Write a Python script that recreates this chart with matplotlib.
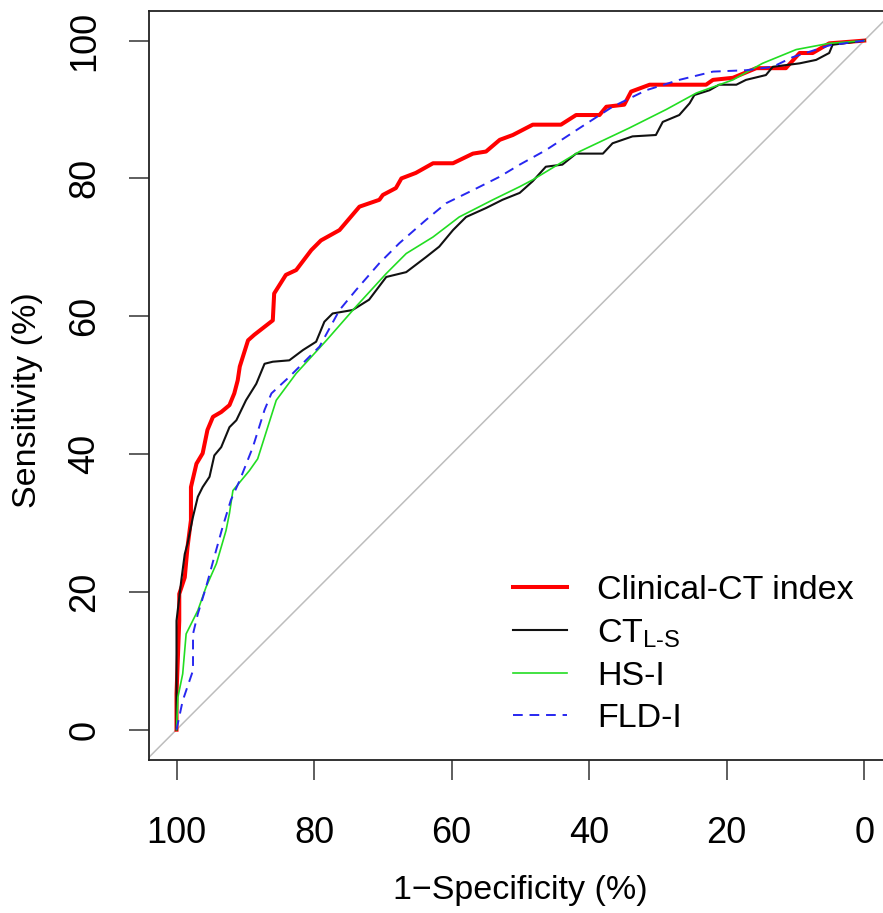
import matplotlib
matplotlib.use("Agg")
import matplotlib.pyplot as plt

plt.rcParams['font.family'] = ['Liberation Sans', 'DejaVu Sans']
plt.rcParams['mathtext.fontset'] = 'custom'
plt.rcParams['mathtext.rm'] = 'Liberation Sans'

# Data: (specificity %, sensitivity %)
clin_spec = [100, 100, 99.6, 99.6, 98.8, 98.4, 97.9, 97.9, 97.1, 96.2, 95.5, 94.7, 93.5, 92.3, 91.6,
             91.1, 90.8, 89.6, 88.7, 86.0, 85.8, 84.1, 82.6, 80.4, 79.0, 76.3, 73.4, 70.5, 70.0, 68.1,
             67.3, 65.2, 62.7, 59.8, 56.9, 55.0, 53.0, 51.1, 48.2, 44.1, 41.9, 38.5, 37.5, 34.9, 33.9,
             31.2, 28.8, 23.0, 22.0, 19.1, 15.7, 11.4, 9.4, 7.5, 5.1, 0]
clin_sens = [0, 5.2, 15.8, 19.7, 22.1, 26.5, 30.4, 35.2, 38.6, 40.1, 43.5, 45.4, 46.1, 47.1, 48.8,
             50.7, 52.7, 56.5, 57.3, 59.4, 63.3, 66.0, 66.7, 69.6, 71.0, 72.5, 75.9, 76.9, 77.6, 78.6,
             80.0, 80.8, 82.2, 82.2, 83.6, 83.9, 85.6, 86.3, 87.8, 87.8, 89.2, 89.2, 90.4, 90.7, 92.6,
             93.6, 93.6, 93.6, 94.3, 94.6, 96.0, 96.0, 98.2, 98.2, 99.6, 100]

ct_spec = [100, 100, 99.6, 99.3, 98.8, 98.4, 97.6, 96.9, 96.2, 95.2, 94.5, 93.5, 92.3, 91.3, 89.9,
           88.4, 87.2, 86.0, 83.6, 81.6, 79.7, 78.5, 77.3, 74.4, 72.0, 69.5, 66.6, 63.7, 61.8, 59.8,
           57.9, 55.0, 52.6, 50.1, 48.2, 46.3, 43.9, 41.9, 38.0, 36.6, 33.7, 30.3, 29.3, 26.9, 25.4,
           24.7, 22.5, 21.1, 18.6, 17.2, 14.3, 13.3, 9.4, 7.0, 5.1, 4.6, 0]
ct_sens = [0, 15.8, 19.2, 21.7, 25.5, 27.0, 30.9, 33.8, 35.2, 36.7, 39.8, 41.0, 43.9, 44.9, 47.8,
           50.2, 53.1, 53.4, 53.6, 55.1, 56.3, 59.2, 60.4, 60.9, 62.4, 65.7, 66.4, 68.6, 70.1, 72.5,
           74.4, 75.7, 76.9, 77.9, 79.6, 81.7, 82.0, 83.6, 83.6, 85.1, 86.1, 86.3, 88.2, 89.2, 90.9,
           92.1, 92.8, 93.6, 93.6, 94.3, 95.0, 96.2, 96.7, 97.2, 98.2, 99.4, 100]

hs_spec = [100, 99.8, 99.1, 98.6, 96.9, 95.7, 94.2, 92.8, 92.3, 91.8, 89.4, 88.2, 85.5, 82.6, 78.2,
           73.9, 69.5, 66.6, 62.7, 58.9, 54.0, 50.1, 48.2, 41.4, 34.2, 28.8, 24.4, 19.1, 14.8, 9.9,
           5.1, 0]
hs_sens = [0, 4.7, 8.1, 13.9, 17.3, 20.7, 24.1, 28.9, 31.4, 34.7, 37.6, 39.3, 47.8, 51.7, 56.5,
           61.4, 66.2, 69.1, 71.5, 74.4, 76.9, 78.8, 79.8, 83.9, 87.3, 90.0, 92.4, 94.3, 96.7, 98.7,
           99.6, 100]

fld_spec = [100, 99.1, 97.6, 97.6, 96.9, 95.7, 94.5, 93.3, 92.1, 90.8, 88.9, 87.2, 86.2, 83.6, 79.2,
            76.3, 73.9, 70.5, 67.6, 63.7, 60.8, 56.9, 53.1, 50.1, 46.3, 41.4, 36.6, 31.7, 26.9, 22.0,
            17.2, 13.3, 10.4, 5.1, 0]
fld_sens = [0, 4.2, 8.6, 13.9, 16.8, 20.7, 25.1, 29.4, 33.3, 36.2, 41.0, 46.4, 48.8, 51.2, 55.6,
            60.9, 63.8, 67.7, 70.6, 74.0, 76.4, 78.3, 80.2, 82.0, 84.1, 87.3, 90.4, 92.8, 94.3, 95.5,
            95.7, 96.2, 97.6, 99.3, 100]

labels = ['Clinical-CT index', r'CT$_{\mathregular{L\text{-}S}}$', 'HS-I', 'FLD-I']
ticks = [100, 80, 60, 40, 20, 0]

fig = plt.figure(figsize=(8.83, 9.13), dpi=100)
ax = fig.add_axes([0.16874, 0.16758, 0.8412, 0.8204])

ax.axline((100, 0), (0, 100), color='#BDBDBD', lw=1.1, zorder=1)
ax.plot(clin_spec, clin_sens, color='#FF0000', lw=2.9, label=labels[0], zorder=2)
ax.plot(ct_spec, ct_sens, color='#111111', lw=1.5, label=labels[1], zorder=3)
ax.plot(hs_spec, hs_sens, color='#22DD22', lw=1.2, label=labels[2], zorder=4)
ax.plot(fld_spec, fld_sens, color='#2727F0', lw=1.4, ls=(0, (5, 3.5)), label=labels[3], zorder=5)

ax.set_xlim(104, -4)
ax.set_ylim(-4.4, 104.3)
ax.set_xticks(ticks)
ax.set_yticks(ticks)
ax.set_xticklabels([str(t) for t in ticks])
ax.set_yticklabels([str(t) for t in ticks], rotation=90, va='center')
ax.tick_params(axis='both', direction='out', length=14.4, width=1.1, labelsize=26, color='#333333')
ax.tick_params(axis='x', pad=26)
ax.tick_params(axis='y', pad=19)
for s in ax.spines.values():
    s.set_linewidth(1.3)
    s.set_color('#222222')

ax.set_xlabel('1\u2212Specificity (%)', fontsize=24.5, labelpad=17)
ax.set_ylabel('Sensitivity (%)', fontsize=24.5, labelpad=17)
ax.yaxis.set_label_coords(-0.1427, 0.48)

leg = ax.legend(loc='upper left', bbox_to_anchor=(0.49, 0.247), frameon=False, fontsize=24.5,
                handlelength=1.6, handletextpad=0.87, labelspacing=0.33, borderpad=0, borderaxespad=0)

fig.savefig('out.png', dpi=100)
